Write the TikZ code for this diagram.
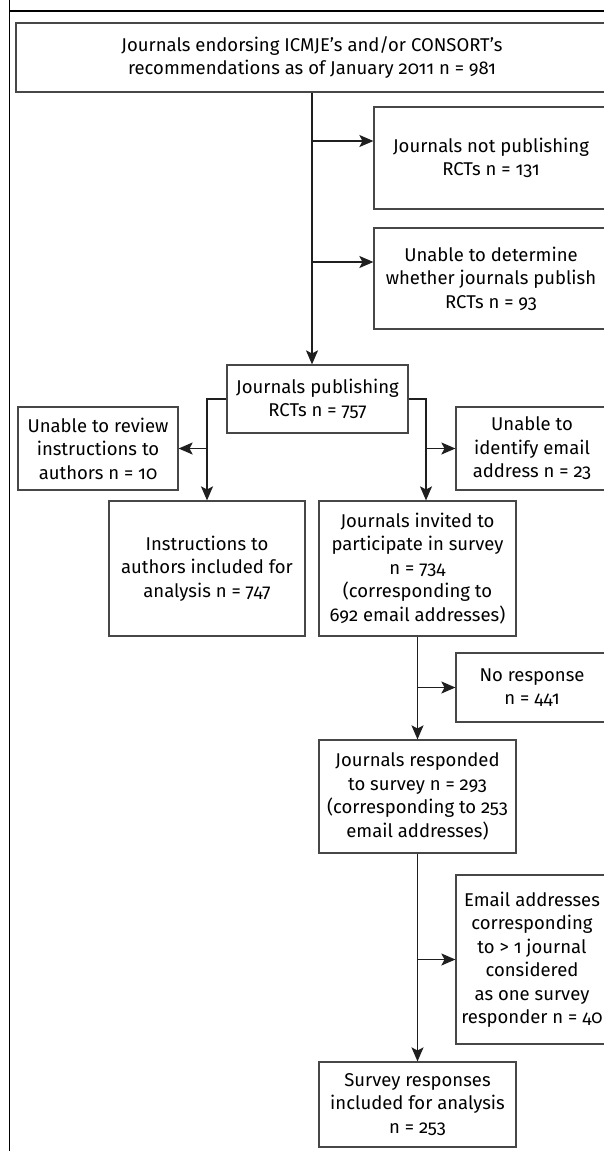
\documentclass[tikz,border=0pt]{standalone}
\usepackage{fontspec}
\setmainfont{Fira Sans}[Numbers=OldStyle]
\usetikzlibrary{arrows.meta}
\begin{document}
\begin{tikzpicture}[x=1pt,y=-1pt,
  box/.style={draw=black!72, line width=1.2pt, inner sep=0pt, align=center,
    font=\fontsize{18.5}{23.5}\selectfont, text=black},
  arr/.style={draw=black!88, line width=1.2pt, -{Stealth[length=14pt,width=12pt,inset=3pt]}},
  ln/.style={draw=black!88, line width=1.2pt},
  frame/.style={draw=black, line width=1.3pt}]
\useasboundingbox (0,0) rectangle (604,1151);
\begin{scope}
\clip (0,0) rectangle (604,1151);
\draw[frame] (9.5,0) -- (9.5,1151);
\draw[frame] (9.5,11) -- (610,11);

\node[box, minimum width=592pt, minimum height=69pt] (A) at (312,57.5)
  {Journals endorsing ICMJE’s and/or CONSORT’s\\recommendations as of January 2011 n = 981};
\node[box, minimum width=234pt, minimum height=102pt] (B1) at (491,158)
  {Journals not publishing\\RCTs n = 131};
\node[box, minimum width=234pt, minimum height=101pt] (B2) at (491,278.5)
  {Unable to determine\\whether journals publish\\RCTs n = 93};
\node[box, minimum width=181pt, minimum height=68pt] (C) at (317.5,399)
  {Journals publishing\\RCTs n = 757};
\node[box, minimum width=160pt, minimum height=83pt] (DL) at (98,448.5)
  {Unable to review\\instructions to\\authors n = 10};
\node[box, minimum width=152pt, minimum height=83pt] (DR) at (532,448.5)
  {Unable to\\identify email\\address n = 23};
\node[box, minimum width=196pt, minimum height=135pt] (E) at (207,568.5)
  {Instructions to\\authors included for\\analysis n = 747};
\node[box, minimum width=197pt, minimum height=135pt] (F) at (417.5,568.5)
  {Journals invited to\\participate in survey\\n = 734\\(corresponding to\\692 email addresses)};
\node[box, minimum width=152pt, minimum height=69pt] (G) at (532,687.5)
  {No response\\n = 441};
\node[box, minimum width=197pt, minimum height=113pt] (H) at (417.5,796.5)
  {Journals responded\\to survey n = 293\\(corresponding to 253\\email addresses)};
\node[box, minimum width=152pt, minimum height=169pt] (I) at (532,959.5)
  {Email addresses\\corresponding\\to > 1 journal\\considered\\as one survey\\responder n = 40};
\node[box, minimum width=197pt, minimum height=85pt] (J) at (417.5,1104.5)
  {Survey responses\\included for analysis\\n = 253};

\draw[arr] (A.south) -- (A.south |- C.north);
\coordinate (k1) at (312,141);
\coordinate (k2) at (312,262);
\draw[arr] (k1) -- (k1 -| B1.west);
\draw[arr] (k2) -- (k2 -| B2.west);

\draw[arr] (C.west) -| (E.north);
\coordinate (kl) at (207,448.5);
\draw[arr] (kl) -- (DL.east);

\coordinate (rb) at (426,399);
\draw[arr] (C.east) -- (rb) -- (rb |- F.north);
\draw[arr] (rb |- DR.west) -- (DR.west);

\draw[arr] (F.south) -- (H.north);
\draw[arr] (F.south |- G.west) -- (G.west);
\draw[arr] (H.south) -- (J.north);
\draw[arr] (H.south |- I.west) -- (I.west);
\end{scope}
\end{tikzpicture}
\end{document}
